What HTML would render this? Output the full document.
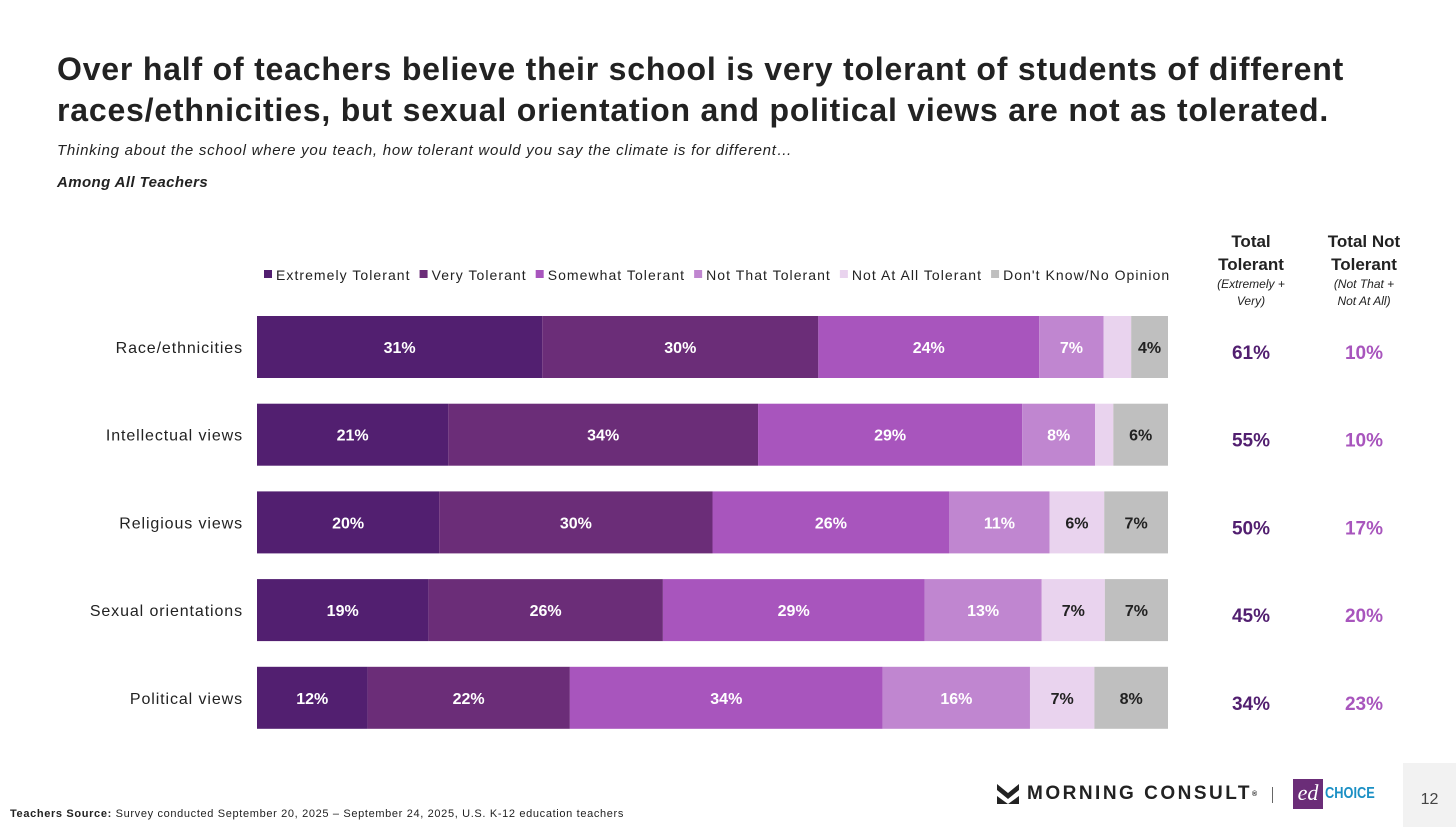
<!DOCTYPE html>
<html><head><meta charset="utf-8"><style>
body{margin:0;width:1456px;height:827px;background:#fff;font-family:"Liberation Sans",sans-serif;position:relative;overflow:hidden;color:#222}
.abs{position:absolute}
</style></head><body>
<div class="abs" style="left:57px;top:49px;font-size:32px;letter-spacing:0.8px;font-weight:bold;line-height:41px;color:#222;white-space:nowrap">Over half of teachers believe their school is very tolerant of students of different<br>races/ethnicities, but sexual orientation and political views are not as tolerated.</div>
<div class="abs" style="left:57px;top:142px;font-size:15px;letter-spacing:0.75px;font-style:italic;white-space:nowrap">Thinking about the school where you teach, how tolerant would you say the climate is for different…</div>
<div class="abs" style="left:57px;top:174px;font-size:15px;letter-spacing:0.4px;font-style:italic;font-weight:bold">Among All Teachers</div>
<div class="abs" style="left:1201px;top:230px;width:100px;text-align:center;font-size:17px;font-weight:bold;line-height:23px">Total<br>Tolerant<div style="font-size:12px;font-weight:normal;font-style:italic;line-height:17px">(Extremely +<br>Very)</div></div>
<div class="abs" style="left:1314px;top:230px;width:100px;text-align:center;font-size:17px;font-weight:bold;line-height:23px">Total Not<br>Tolerant<div style="font-size:12px;font-weight:normal;font-style:italic;line-height:17px">(Not That +<br>Not At All)</div></div>
<svg class="abs" style="left:0;top:0" width="1456" height="827" id="chart"></svg>
<div class="abs" style="left:10px;top:808px;font-size:11px;letter-spacing:0.65px;white-space:nowrap"><b>Teachers Source:</b> Survey conducted September 20, 2025 – September 24, 2025, U.S. K-12 education teachers</div>
<div class="abs" style="left:997px;top:783px;font-size:19px;font-weight:bold;letter-spacing:2.5px;color:#222;display:flex;align-items:center">
<svg width="22" height="20" viewBox="0 0 22 20" style="margin-right:8px"><path d="M0 0 L11 9 L22 0 L22 6 L11 15 L0 6Z M0 12 L11 20 L22 12 L22 20 L0 20Z" fill="#222"/></svg>MORNING CONSULT<sup style="font-size:7px">®</sup></div>
<div class="abs" style="left:1272px;top:787px;width:1px;height:16px;background:#666"></div>
<div class="abs" style="left:1293px;top:779px;display:flex;align-items:center"><div style="width:30px;height:30px;background:#6b2d78;color:#fff;font-style:italic;font-family:'Liberation Serif',serif;font-size:22px;text-align:center;line-height:28px">ed</div><span style="color:#1a8fc4;font-weight:bold;font-size:16px;margin-left:2px;transform:scaleX(.8);display:inline-block;transform-origin:left">CHOICE</span></div>
<div class="abs" style="left:1403px;top:763px;width:53px;height:64px;background:#f2f2f2;font-size:16px;color:#444;text-align:center;line-height:74px">12</div>
<script>
const categories=["Race/ethnicities","Intellectual views","Religious views","Sexual orientations","Political views"];
const seriesNames=["Extremely Tolerant","Very Tolerant","Somewhat Tolerant","Not That Tolerant","Not At All Tolerant","Don't Know/No Opinion"];
const extremely=[31,21,20,19,12];
const very=[30,34,30,26,22];
const somewhat=[24,29,26,29,34];
const notThat=[7,8,11,13,16];
const notAtAll=[3,2,6,7,7];
const dontKnow=[4,6,7,7,8];
const totalTolerant=[61,55,50,45,34];
const totalNotTolerant=[10,10,17,20,23];
const colors=["#521f70","#6b2d78","#a855bd","#c086d0","#e9d3ee","#bfbfbf"];
const textColors=["#fff","#fff","#fff","#fff","#222","#222"];
const series=[extremely,very,somewhat,notThat,notAtAll,dontKnow];
const NS="http://www.w3.org/2000/svg";
const svg=document.getElementById('chart');
const x0=257,x1=1168,rowTop=316,rowStep=87.7,barH=62;
function y(i){return rowTop+i*rowStep;}
function mk(t,a){const e=document.createElementNS(NS,t);for(const k in a)e.setAttribute(k,a[k]);svg.appendChild(e);return e;}
let lx=264;
seriesNames.forEach((n,s)=>{
  const r=mk('rect',{x:lx,y:270,width:8,height:8,fill:colors[s]});
  
  
  const t=mk('text',{x:lx+12,y:280,'font-size':14,'letter-spacing':'1.05px',fill:'#222'});
  t.textContent=n;
  
  
  lx+=12+t.getBBox().width+9;
});
categories.forEach((c,i)=>{
  const total=series.reduce((a,s)=>a+s[i],0);
  const lab=mk('text',{x:243,y:y(i)+barH/2+6,'text-anchor':'end','font-size':16,'letter-spacing':'0.9px',fill:'#222'});
  lab.textContent=c;
  
  
  let acc=0;
  series.forEach((s,k)=>{
    const xa=x0+(x1-x0)*acc/total, w=(x1-x0)*s[i]/total;
    const r=mk('rect',{x:xa,y:y(i),width:w,height:barH,fill:colors[k]});
    
    
    if(s[i]>=4){
      const t=mk('text',{x:xa+w/2,y:y(i)+barH/2+6,'text-anchor':'middle','font-size':16,'font-weight':'bold',fill:textColors[k]});
      t.textContent=s[i]+'%';
      
      
    }
    acc+=s[i];
  });
  const a=mk('text',{x:1251,y:y(i)+barH/2+12,'text-anchor':'middle','font-size':19,'font-weight':'bold',fill:'#521f70'});
  a.textContent=totalTolerant[i]+'%';
  
  
  const b=mk('text',{x:1364,y:y(i)+barH/2+12,'text-anchor':'middle','font-size':19,'font-weight':'bold',fill:'#a855bd'});
  b.textContent=totalNotTolerant[i]+'%';
  
  
});
</script>
</body></html>
